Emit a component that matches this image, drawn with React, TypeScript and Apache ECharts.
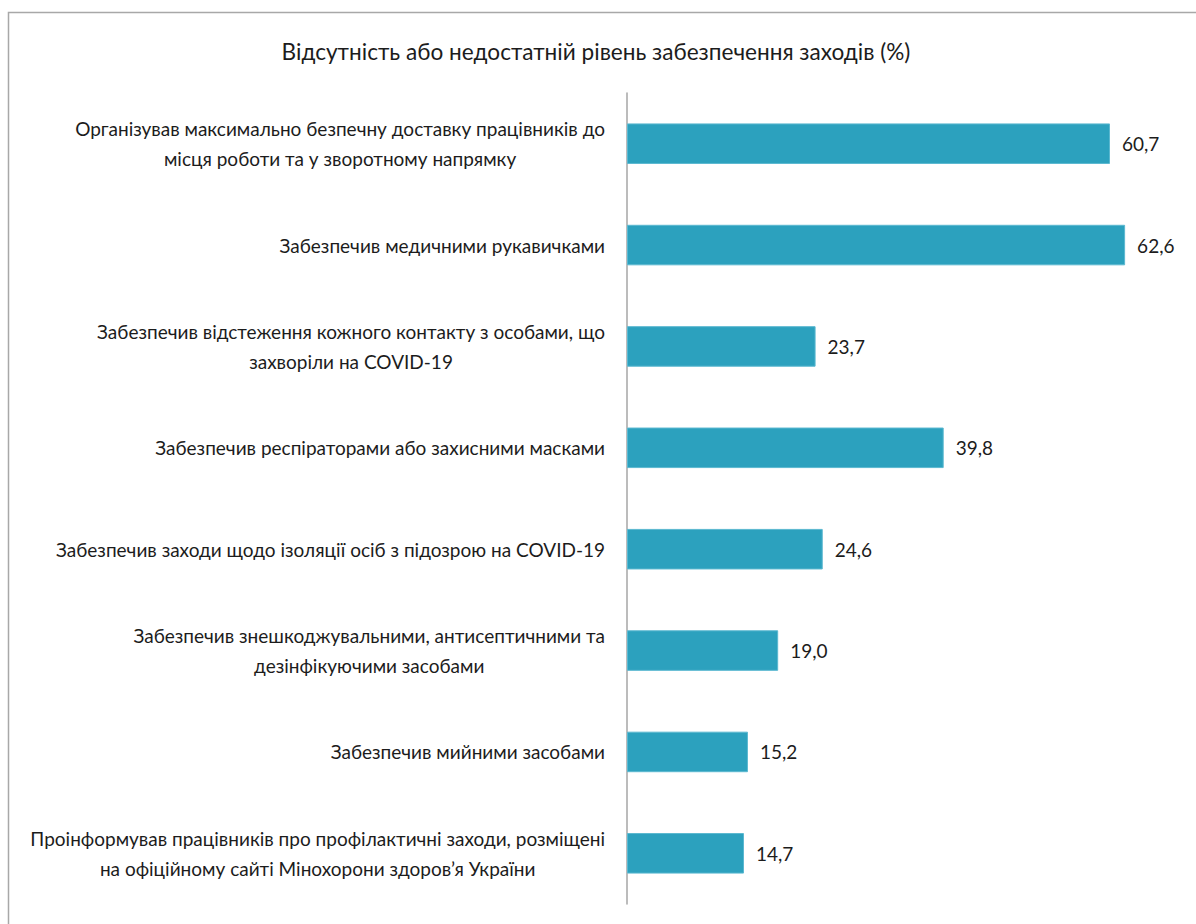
import React, { useEffect, useRef } from "react";
import * as echarts from "echarts";

const titleText = "Відсутність або недостатній рівень забезпечення заходів (%)";

const categories = [
  "Організував максимально безпечну доставку працівників до\nмісця роботи та у зворотному напрямку",
  "Забезпечив медичними рукавичками",
  "Забезпечив відстеження кожного контакту з особами, що\nзахворіли на COVID-19",
  "Забезпечив респіраторами або захисними масками",
  "Забезпечив заходи щодо ізоляції осіб з підозрою на COVID-19",
  "Забезпечив знешкоджувальними, антисептичними та\nдезінфікуючими засобами",
  "Забезпечив мийними засобами",
  "Проінформував працівників про профілактичні заходи, розміщені\nна офіційному сайті Мінохорони здоров’я України",
];

const values = [60.7, 62.6, 23.7, 39.8, 24.6, 19.0, 15.2, 14.7];

const FONT = "Lato";
const TEXT_COLOR = "#1c1c1c";
const BAR_COLOR = "#2ca1be";

export default function App() {
  const ref = useRef<HTMLDivElement>(null);

  useEffect(() => {
    if (!ref.current) return;
    const chart = echarts.init(ref.current, undefined, { renderer: "svg" });
    chart.setOption({
      animation: false,
      backgroundColor: "#ffffff",
      title: {
        text: titleText,
        left: 591,
        textAlign: "center",
        top: 35,
        textStyle: {
          fontFamily: FONT,
          fontSize: 22.6,
          fontWeight: "normal",
          color: TEXT_COLOR,
        },
      },
      graphic: [
        {
          type: "rect",
          shape: { x: 8.5, y: 12.5, width: 1300, height: 1100 },
          style: { fill: "none", stroke: "#a8a8a8", lineWidth: 1.5 },
          silent: true,
        },
      ],
      grid: { left: 627, top: 93, bottom: 20, right: 12, containLabel: false },
      xAxis: {
        type: "value",
        min: 0,
        max: 70,
        show: false,
      },
      yAxis: {
        type: "category",
        data: categories,
        inverse: true,
        axisLine: { show: true, lineStyle: { color: "#a6a6a6", width: 1.5 } },
        axisTick: { show: false },
        axisLabel: {
          margin: 22,
          align: "right",
          fontFamily: FONT,
          fontSize: 19,
          color: TEXT_COLOR,
          lineHeight: 30,
          formatter: (v: string) =>
            v
              .split("\n")
              .map((l) => `{c|${l}}`)
              .join("\n"),
          rich: {
            c: {
              align: "center",
              fontFamily: FONT,
              fontSize: 19,
              color: TEXT_COLOR,
              lineHeight: 30,
            },
          },
        },
      },
      series: [
        {
          type: "bar",
          data: values,
          barCategoryGap: "60%",
          itemStyle: { color: BAR_COLOR, borderColor: "#5bb8d0", borderWidth: 1 },
          label: {
            show: true,
            position: "right",
            distance: 12,
            fontFamily: FONT,
            fontSize: 19,
            color: TEXT_COLOR,
            formatter: (p: any) => Number(p.value).toFixed(1).replace(".", ","),
          },
        },
      ],
    });
    return () => chart.dispose();
  }, []);

  return (
    <div
      ref={ref}
      style={{ position: "fixed", left: 0, top: 0, width: 1196, height: 924 }}
    />
  );
}
